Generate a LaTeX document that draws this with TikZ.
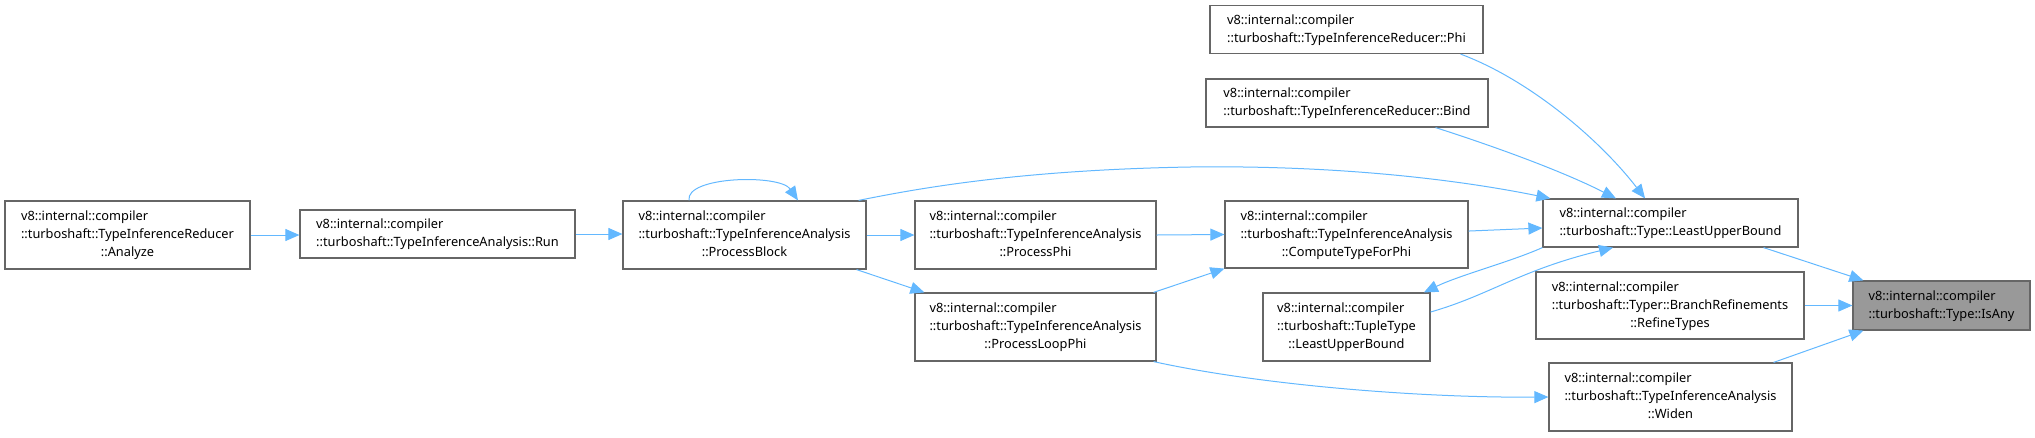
\documentclass[tikz,border=0pt]{standalone}
\usepackage{fontspec}
\setmainfont{Noto Sans}
\usetikzlibrary{arrows.meta}
\definecolor{edgec}{HTML}{63B8FF}
\definecolor{boxc}{HTML}{666666}
\definecolor{hlc}{HTML}{999999}
\newcommand{\twoln}[2]{\begin{tabular}{@{}l@{}}#1\\#2\end{tabular}}
\newcommand{\threeln}[3]{\begin{tabular}{@{}l@{}}#1\\#2\\\multicolumn{1}{@{}c@{}}{#3}\end{tabular}}
\tikzset{
  bx/.style 2 args={draw=boxc, line width=0.9pt, fill=white, inner sep=0pt,
    minimum width=#1*0.75pt, minimum height=#2*0.75pt,
    font=\fontsize{9.6}{13.6}\selectfont},
  hl/.style={fill=hlc},
  edge/.style={draw=edgec, line width=0.75pt, -{Triangle[length=10.5pt,width=9pt]}}
}
\begin{document}
\begin{tikzpicture}[x=0.75pt,y=-0.75pt]
\useasboundingbox (0,0) rectangle (2035,437);
\node[bx={245}{68}] (an) at (127.5,235) {\threeln{v8::internal::compiler}{::turboshaft::TypeInferenceReducer}{::Analyze}};
\node[bx={275}{48}] (run) at (437.5,234) {\twoln{v8::internal::compiler}{::turboshaft::TypeInferenceAnalysis::Run}};
\node[bx={243}{68}] (pb) at (744.5,235) {\threeln{v8::internal::compiler}{::turboshaft::TypeInferenceAnalysis}{::ProcessBlock}};
\node[bx={241}{68}] (pp) at (1035.5,235) {\threeln{v8::internal::compiler}{::turboshaft::TypeInferenceAnalysis}{::ProcessPhi}};
\node[bx={241}{68}] (plp) at (1035.5,327) {\threeln{v8::internal::compiler}{::turboshaft::TypeInferenceAnalysis}{::ProcessLoopPhi}};
\node[bx={273}{48}] (phi) at (1346.5,29.5) {\twoln{v8::internal::compiler}{::turboshaft::TypeInferenceReducer::Phi}};
\node[bx={282}{48}] (bind) at (1347,103) {\twoln{v8::internal::compiler}{::turboshaft::TypeInferenceReducer::Bind}};
\node[bx={243}{67}] (ctp) at (1346.5,234.5) {\threeln{v8::internal::compiler}{::turboshaft::TypeInferenceAnalysis}{::ComputeTypeForPhi}};
\node[bx={167}{68}] (tt) at (1346.5,327) {\threeln{v8::internal::compiler}{::turboshaft::TupleType}{::LeastUpperBound}};
\node[bx={255}{48}] (lub) at (1670.5,223) {\twoln{v8::internal::compiler}{::turboshaft::Type::LeastUpperBound}};
\node[bx={268}{67}] (rt) at (1670,305.5) {\threeln{v8::internal::compiler}{::turboshaft::Typer::BranchRefinements}{::RefineTypes}};
\node[bx={243}{68}] (wid) at (1670.5,397) {\threeln{v8::internal::compiler}{::turboshaft::TypeInferenceAnalysis}{::Widen}};
\node[bx={177}{49},hl] (isany) at (1941.5,305.5) {\twoln{v8::internal::compiler}{::turboshaft::Type::IsAny}};

\draw[edge] (an.east) -- (run.west |- an.east);
\draw[edge] (run.east) -- (pb.west |- run.east);
\draw[edge] (pb.east) -- (pp.west);
\draw[edge] ([xshift=-7.5pt]pb.south east) -- ([xshift=7.5pt]plp.north west);
\draw[edge] (pp.east) -- (ctp.west);
\draw[edge] ([xshift=-2.25pt]plp.north east) -- (ctp.south west);
\draw[edge] ([xshift=-2.25pt]plp.south east) .. controls (1260,385) and (1420,398) .. (wid.west);
\draw[edge] ([yshift=2.6pt]ctp.east) -- ([yshift=-3.75pt]lub.west);
\draw[edge] ([xshift=-6pt]pb.north east) .. controls (920,188) and (1020,170) .. (1190,167) .. controls (1340,165) and (1460,180) .. ([xshift=6pt]lub.north west);
\draw[edge] ([xshift=-17.25pt]phi.south east) .. controls (1530,80) and (1600,140) .. ([xshift=-19.1pt]lub.north);
\draw[edge] ([xshift=-39.75pt]bind.south east) .. controls (1490,145) and (1560,170) .. ([xshift=-40.9pt]lub.north);
\draw[edge] (lub.south west) .. controls (1510,262) and (1460,275) .. ([xshift=-5pt]tt.north east);
\draw[edge] ([yshift=11.25pt]tt.east) .. controls (1490,295) and (1520,270) .. ([xshift=-43.1pt]lub.south);
\draw[edge] ([xshift=-26.25pt]lub.south east) -- ([xshift=8.25pt]isany.north west);
\draw[edge] (rt.east) -- (isany.west);
\draw[edge] ([xshift=-14.25pt]wid.north east) -- ([xshift=8.25pt]isany.south west);
\draw[edge] ([xshift=-41.6pt]pb.north) .. controls (685,176) and (780,174) .. ([xshift=40.1pt]pb.north);
\end{tikzpicture}
\end{document}
